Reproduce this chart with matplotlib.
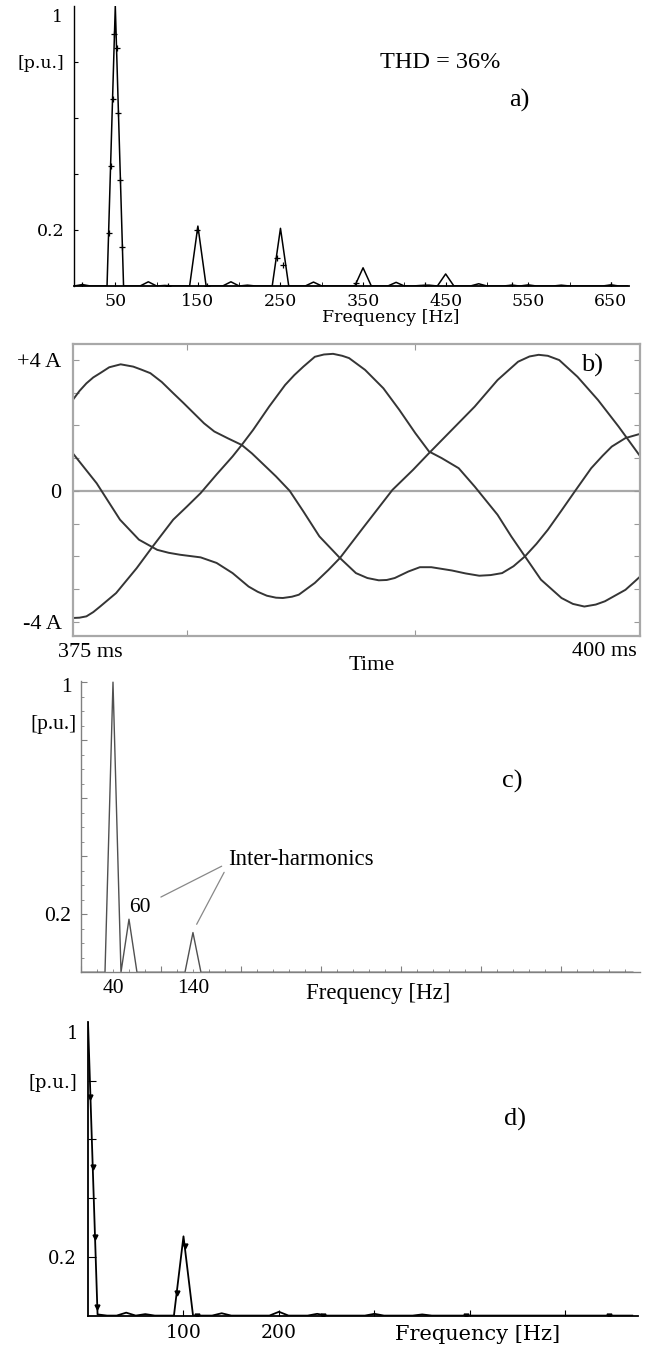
import matplotlib
matplotlib.use('Agg')
import matplotlib.pyplot as plt
from matplotlib.ticker import MultipleLocator

TIMES = 'Liberation Serif'
CENT = 'DejaVu Serif'
plt.rcParams['font.family'] = [TIMES, 'DejaVu Serif']

# ---------------- data ----------------
# a) current spectrum, 10 Hz bins
freq_a = list(range(0, 680, 10))
amp_a = [0, 0.005, 0, 0, 0, 1.0, 0, 0, 0, 0.015,
         0, 0.002, 0, 0, 0, 0.214, 0, 0, 0, 0.015,
         0, 0.003, 0, 0, 0, 0.206, 0, 0, 0, 0.014,
         0, 0, 0, 0, 0, 0.065, 0, 0, 0, 0.013,
         0, 0, 0.002, 0.003, 0, 0.043, 0, 0, 0, 0.008,
         0, 0, 0, 0.003, 0, 0.004, 0, 0, 0, 0.003,
         0, 0, 0, 0, 0, 0.004, 0, 0]
mk_a_f = [9.5, 41.9, 44.3, 46.7, 49.0, 51.5, 53.8, 56.2, 58.6, 114, 149.5, 160.5,
          245.2, 253.5, 342, 425, 530, 650]
mk_a_v = [0.004, 0.188, 0.429, 0.668, 0.90, 0.85, 0.617, 0.377, 0.138, 0, 0.20, 0,
          0.10, 0.075, 0.01, 0.002, 0.003, 0.003]
xt_a = [50, 150, 250, 350, 450, 550, 650]

# b) three phase currents, 375-400 ms
tA = [375.0, 375.3, 375.6, 375.9, 376.2, 376.6, 377.1, 377.65, 378.0, 378.4, 378.9,
      379.4, 379.85, 380.3, 380.75, 381.2, 381.8, 382.4, 382.85, 383.3, 383.9, 384.5,
      385.1, 385.8, 386.7, 387.4, 387.9, 388.4, 388.75, 389.1, 389.7, 390.2,
      390.7, 391.6, 392.2, 392.8, 393.3, 393.8, 394.3, 394.8, 395.3, 395.8, 396.4,
      397.0, 397.7, 398.2, 398.6, 399.2, 399.85]
iA = [2.77, 3.05, 3.28, 3.46, 3.59, 3.77, 3.86, 3.79, 3.70, 3.59, 3.32,
      2.98, 2.68, 2.37, 2.06, 1.81, 1.60, 1.40, 1.14, 0.84, 0.44, 0.0,
      -0.63, -1.39, -2.05, -2.51, -2.66, -2.73, -2.72, -2.66, -2.46, -2.33,
      -2.33, -2.43, -2.52, -2.59, -2.57, -2.51, -2.30, -2.0, -1.62, -1.19, -0.60,
      0.0, 0.69, 1.07, 1.35, 1.61, 1.74]
tB = [375.0, 376.05, 377.07, 377.9, 378.7, 379.2, 379.7, 380.6, 381.3, 382.0, 382.7,
      383.1, 383.5, 383.9, 384.2, 384.6, 384.9, 385.6, 386.2, 386.7, 387.7, 389.0,
      389.9, 390.6, 391.6, 392.6, 393.6, 394.5, 395.0, 395.4, 395.8, 396.3, 397.1,
      398.0, 398.9, 399.85]
iB = [1.15, 0.23, -0.88, -1.49, -1.80, -1.89, -1.95, -2.03, -2.2, -2.51, -2.92,
      -3.08, -3.2, -3.26, -3.27, -3.23, -3.17, -2.81, -2.41, -2.05, -1.14, 0.03,
      0.64, 1.15, 1.86, 2.57, 3.38, 3.94, 4.10, 4.15, 4.12, 3.99, 3.48,
      2.77, 1.96, 1.05]
tC = [375.0, 375.3, 375.6, 375.9, 376.2, 376.9, 377.8, 378.5, 379.4, 380.0, 380.6,
      381.3, 382.0, 382.4, 382.9, 383.6, 384.3, 384.7, 385.1, 385.6, 386.0, 386.4,
      386.8, 387.1, 387.8, 388.6, 389.3, 390.0, 390.6, 391.15, 391.9, 392.6, 393.6,
      394.2, 394.8, 395.5, 396.4, 396.9, 397.4, 397.9, 398.3, 399.2, 399.85]
iC = [-3.88, -3.87, -3.83, -3.70, -3.53, -3.12, -2.36, -1.70, -0.88, -0.48, -0.07,
      0.50, 1.05, 1.40, 1.86, 2.57, 3.23, 3.53, 3.79, 4.09, 4.16, 4.18,
      4.12, 4.05, 3.69, 3.13, 2.47, 1.76, 1.20, 1.0, 0.69, 0.13, -0.73,
      -1.39, -2.0, -2.71, -3.27, -3.45, -3.53, -3.47, -3.37, -3.02, -2.61]
yt_b = [-4, -3, -2, -1, 0, 1, 2, 3, 4]
yl_b = ['-4 A', '', '', '', '0', '', '', '', '+4 A']

# c) spectrum with inter-harmonics
freq_c = list(range(0, 700, 10))
amp_c = [0, 0, 0, 0, 1.0, 0, 0.183, 0, 0, 0,
         0, 0, 0, 0, 0.137] + [0] * 55

# d) spectrum
freq_d = list(range(0, 580, 10))
amp_d = [1.0, 0.004, 0, 0, 0.010, 0, 0.005, 0, 0, 0,
         0.27, 0, 0, 0, 0.008, 0, 0, 0, 0, 0,
         0.013, 0, 0, 0, 0.006, 0, 0, 0, 0, 0,
         0.006, 0, 0, 0, 0, 0.004] + [0] * 22
mk_d_f = [2.5, 4.9, 7.3, 9.7, 92.8, 101.5, 114, 246, 396, 546]
mk_d_v = [0.746, 0.506, 0.268, 0.028, 0.076, 0.236, 0, 0, 0, 0]

# ---------------- figure ----------------
W, H = 649, 1355
fig = plt.figure(figsize=(W / 100, H / 100), dpi=100)
fig.patch.set_facecolor('white')


def axes_px(l, r, t, b):
    return fig.add_axes([l / W, 1 - b / H, (r - l) / W, (b - t) / H])


def ftext(x, y, s, **kw):
    fig.text(x / W, 1 - y / H, s, **kw)


# ---- a)
axa = axes_px(74, 629, 6, 286)
axa.plot(freq_a, amp_a, color='black', lw=1.1)
axa.plot(mk_a_f, mk_a_v, ls='none', marker='+', color='black', ms=4, mew=0.9)
axa.set_xlim(0, 672)
axa.set_ylim(0, 1.0)
for s in ['top', 'right']:
    axa.spines[s].set_visible(False)
axa.spines['left'].set_linewidth(1.0)
axa.spines['bottom'].set_linewidth(1.3)
axa.set_xticks(xt_a)
axa.set_xticklabels([str(v) for v in xt_a])
axa.set_xticks([100, 200, 300, 400, 500, 600], minor=True)
axa.tick_params(axis='x', which='both', direction='in', length=3, pad=5, labelsize=12.5)
axa.set_yticks([0.2, 0.4, 0.6, 0.8])
axa.set_yticklabels(['0.2', '', '', '[p.u.]'])
axa.tick_params(axis='y', direction='in', length=3, pad=7, labelsize=12.5)
for lab in axa.get_xticklabels() + axa.get_yticklabels():
    lab.set_fontfamily(CENT)
axa.text(-0.02, 0.96, '1', transform=axa.get_yaxis_transform(), ha='right',
         va='center', fontsize=12.5, fontfamily=CENT)
ftext(391, 318, 'Frequency [Hz]', ha='center', va='center', fontsize=12.5, fontfamily=CENT)
ftext(440, 62, 'THD = 36%', ha='center', va='center', fontsize=17.5)
ftext(519, 100, 'a)', ha='center', va='center', fontsize=19)

# ---- b)
axb = axes_px(72.7, 640.3, 344, 635.7)
axb.axhline(0, color='#a8a8a8', lw=1.6, zorder=0)
for t, i in [(tA, iA), (tB, iB), (tC, iC)]:
    axb.plot(t, i, color='#353535', lw=1.4, solid_joinstyle='round')
axb.set_xlim(375, 399.85)
axb.set_ylim(-4.42, 4.48)
for s in axb.spines.values():
    s.set_color('#a8a8a8')
    s.set_linewidth(1.6)
axb.set_yticks(yt_b)
axb.set_yticklabels(yl_b)
axb.tick_params(axis='y', direction='in', length=4, color='#999999', left=True,
                right=True, labelsize=16, pad=8)
axb.set_xticks([380, 390])
axb.set_xticklabels(['', ''])
axb.tick_params(axis='x', direction='in', length=4, color='#999999', top=True, bottom=True)
ftext(58, 652.7, '375 ms', ha='left', va='center', fontsize=16)
ftext(637, 651.7, '400 ms', ha='right', va='center', fontsize=16)
ftext(372, 665, 'Time', ha='center', va='center', fontsize=16)
ftext(592, 365, 'b)', ha='center', va='center', fontsize=19)

# ---- c)
axc = axes_px(81, 640, 680.7, 972.3)
axc.plot(freq_c, amp_c, color='#505050', lw=1.0)
axc.set_xlim(0, 699)
axc.set_ylim(0, 1.005)
for s in ['top', 'right']:
    axc.spines[s].set_visible(False)
for s in ['left', 'bottom']:
    axc.spines[s].set_color('#808080')
    axc.spines[s].set_linewidth(1.0)
axc.xaxis.set_major_locator(MultipleLocator(100))
axc.xaxis.set_minor_locator(MultipleLocator(20))
axc.set_xticklabels([])
axc.tick_params(axis='x', which='major', direction='in', length=4, color='#808080')
axc.tick_params(axis='x', which='minor', direction='in', length=2.5, color='#808080')
axc.set_yticks([0.2, 0.4, 0.6, 0.8, 1.0])
axc.set_yticklabels(['0.2', '', '', '', ''])
axc.yaxis.set_minor_locator(MultipleLocator(0.05))
axc.tick_params(axis='y', which='major', direction='in', length=4, color='#808080',
                pad=7.4, labelsize=15.5)
axc.tick_params(axis='y', which='minor', direction='in', length=2, color='#808080')
axc.text(-0.0077, 0.853, '[p.u.]', transform=axc.get_yaxis_transform(), ha='right',
         va='center', fontsize=15.5)
axc.text(-0.0166, 0.98, '1', transform=axc.get_yaxis_transform(), ha='right',
         va='center', fontsize=15.5)
for f in [40, 140]:
    axc.text(f, -0.055, str(f), transform=axc.get_xaxis_transform(), ha='center',
             va='center', fontsize=15.5)
axc.text(74, 0.224, '60', ha='center', va='center', fontsize=15.5)
axc.text(184, 0.39, 'Inter-harmonics', ha='left', va='center', fontsize=16.5)
axc.annotate('', xy=(96.8, 0.255), xytext=(179, 0.37),
             arrowprops=dict(arrowstyle='-', color='#888888', lw=0.9))
axc.annotate('', xy=(143, 0.157), xytext=(180.6, 0.353),
             arrowprops=dict(arrowstyle='-', color='#888888', lw=0.9))
ftext(378, 993.3, 'Frequency [Hz]', ha='center', va='center', fontsize=16.5)
ftext(512, 781.7, 'c)', ha='center', va='center', fontsize=19)

# ---- d)
axd = axes_px(88, 638, 1022, 1315.6)
axd.plot(freq_d, amp_d, color='black', lw=1.3)
axd.plot(mk_d_f, mk_d_v, ls='none', marker='v', color='black', ms=3.5)
axd.set_xlim(0, 576)
axd.set_ylim(0, 1.0)
for s in ['top', 'right']:
    axd.spines[s].set_visible(False)
for s in ['left', 'bottom']:
    axd.spines[s].set_linewidth(1.3)
axd.set_yticks([0.2, 0.4, 0.6, 0.8])
axd.set_yticklabels(['0.2', '', '', '[p.u.]'])
axd.tick_params(axis='y', direction='in', length=6, pad=8, labelsize=13)
axd.set_xticks([100, 200, 300, 400, 500])
axd.set_xticklabels(['100', '200', '', '', ''])
axd.tick_params(axis='x', direction='in', length=4, pad=6, labelsize=13.5)
for lab in axd.get_xticklabels() + axd.get_yticklabels():
    lab.set_fontfamily(CENT)
axd.text(-0.0176, 0.96, '1', transform=axd.get_yaxis_transform(), ha='right',
         va='center', fontsize=13, fontfamily=CENT)
ftext(477.5, 1335, 'Frequency [Hz]', ha='center', va='center', fontsize=15, fontfamily=CENT)
ftext(515, 1119, 'd)', ha='center', va='center', fontsize=19)

fig.savefig('out.png', dpi=100, facecolor='white')
